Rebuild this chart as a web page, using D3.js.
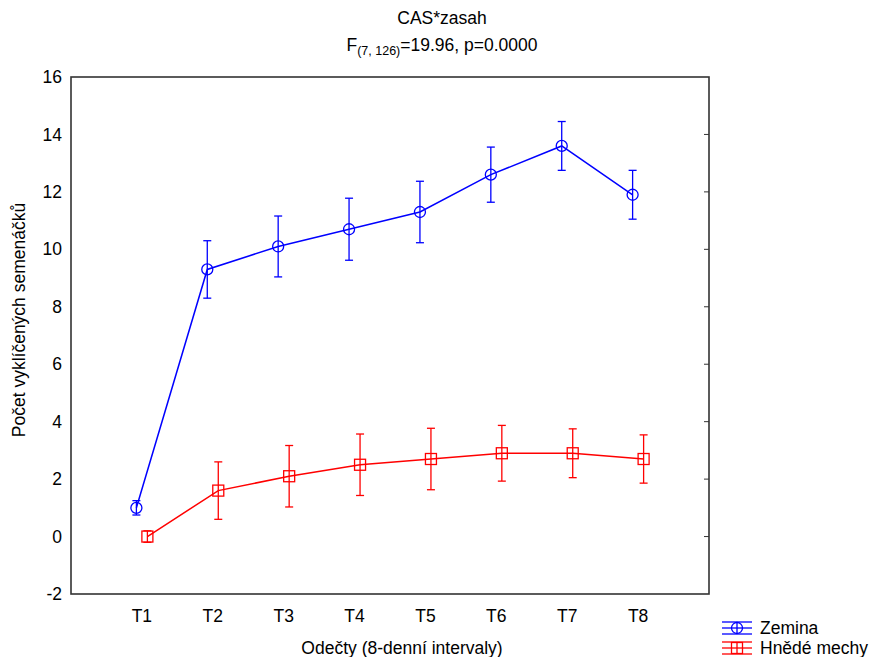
<!DOCTYPE html>
<html>
<head>
<meta charset="utf-8">
<script src="https://cdn.jsdelivr.net/npm/d3@7"></script>
<style>
  body { margin: 0; background: #fff; }
  text { font-family: "Liberation Sans", Arial, sans-serif; }
</style>
</head>
<body>
<svg id="chart"></svg>
<script>
const categories = ["T1", "T2", "T3", "T4", "T5", "T6", "T7", "T8"];
const zeminaMean = [1.0, 9.3, 10.1, 10.7, 11.3, 12.6, 13.6, 11.9];
const zeminaErr  = [0.25, 1.0, 1.06, 1.08, 1.07, 0.96, 0.85, 0.85];
const mechyMean  = [0.0, 1.6, 2.1, 2.5, 2.7, 2.9, 2.9, 2.7];
const mechyErr   = [0.2, 1.0, 1.07, 1.07, 1.07, 0.97, 0.85, 0.84];
const yTicks = [-2, 0, 2, 4, 6, 8, 10, 12, 14, 16];

const series = [
  { name: "Zemina", mean: zeminaMean, err: zeminaErr, color: "#0000ff", shape: "circle", off: -5.5 },
  { name: "Hnědé mechy", mean: mechyMean, err: mechyErr, color: "#ff0000", shape: "square", off: 5.5 }
];

const width = 873, height = 657;
const plotLeft = 71, plotRight = 709, plotTop = 77, plotBottom = 594;
const fs = "17.5px";

const svg = d3.select("#chart").attr("width", width).attr("height", height);

const x = d3.scalePoint().domain(categories).range([plotLeft, plotRight]).padding(1);
const y = d3.scaleLinear().domain([-2, 16]).range([plotBottom, plotTop]);

// frame
svg.append("rect")
   .attr("x", plotLeft).attr("y", plotTop)
   .attr("width", plotRight - plotLeft).attr("height", plotBottom - plotTop)
   .attr("fill", "none").attr("stroke", "#333").attr("stroke-width", 1.6);

// right axis ticks (inside)
svg.append("g").selectAll("line")
   .data(yTicks.slice(1, -1))
   .enter().append("line")
     .attr("x1", plotRight - 5).attr("x2", plotRight)
     .attr("y1", d => y(d)).attr("y2", d => y(d))
     .attr("stroke", "#333").attr("stroke-width", 1);

// y tick labels
svg.append("g").selectAll("text")
   .data(yTicks)
   .enter().append("text")
     .attr("x", plotLeft - 9).attr("y", d => y(d))
     .attr("dy", "0.35em")
     .attr("text-anchor", "end")
     .style("font-size", fs)
     .text(d => d);

// x tick labels
svg.append("g").selectAll("text")
   .data(categories)
   .enter().append("text")
     .attr("x", d => x(d)).attr("y", 622)
     .attr("text-anchor", "middle")
     .style("font-size", fs)
     .text(d => d);

// axis titles
svg.append("text")
   .attr("x", 402).attr("y", 654)
   .attr("text-anchor", "middle").style("font-size", fs)
   .text("Odečty (8-denní intervaly)");

svg.append("text")
   .attr("transform", "translate(25,320) rotate(-90)")
   .attr("text-anchor", "middle").style("font-size", fs)
   .text("Počet vyklíčených semenáčků");

// title
svg.append("text")
   .attr("x", 442).attr("y", 24)
   .attr("text-anchor", "middle").style("font-size", fs)
   .text("CAS*zasah");

const sub = svg.append("text")
   .attr("x", 442).attr("y", 51)
   .attr("text-anchor", "middle").style("font-size", fs);
sub.append("tspan").text("F");
sub.append("tspan").attr("dy", 4).style("font-size", "12.5px").text("(7, 126)");
sub.append("tspan").attr("dy", -4).text("=19.96, p=0.0000");

function drawMarker(g, shape, cx, cy, color) {
  if (shape === "circle") {
    g.append("circle").attr("cx", cx).attr("cy", cy).attr("r", 5.5)
     .attr("fill", "none").attr("stroke", color).attr("stroke-width", 1.3);
  } else {
    g.append("rect").attr("x", cx - 5.5).attr("y", cy - 5.5)
     .attr("width", 11).attr("height", 11)
     .attr("fill", "none").attr("stroke", color).attr("stroke-width", 1.3);
  }
}

series.forEach(s => {
  const g = svg.append("g");
  const pts = categories.map((c, i) => ({ c: c, m: s.mean[i], e: s.err[i] }));

  g.append("path")
   .datum(pts)
   .attr("fill", "none").attr("stroke", s.color).attr("stroke-width", 1.5)
   .attr("d", d3.line().x(d => x(d.c) + s.off).y(d => y(d.m)));

  pts.forEach(d => {
    const cx = x(d.c) + s.off;
    g.append("line")
     .attr("x1", cx).attr("x2", cx)
     .attr("y1", y(d.m + d.e)).attr("y2", y(d.m - d.e))
     .attr("stroke", s.color).attr("stroke-width", 1.3);
    [d.m + d.e, d.m - d.e].forEach(v => {
      g.append("line")
       .attr("x1", cx - 4).attr("x2", cx + 4)
       .attr("y1", y(v)).attr("y2", y(v))
       .attr("stroke", s.color).attr("stroke-width", 1.3);
    });
    drawMarker(g, s.shape, cx, y(d.m), s.color);
  });
});

// legend
series.forEach((s, i) => {
  const ly = 628 + i * 20;
  const g = svg.append("g");
  [-6, 0, 6].forEach(dy => {
    g.append("line")
     .attr("x1", 722).attr("x2", 752)
     .attr("y1", ly + dy).attr("y2", ly + dy)
     .attr("stroke", s.color).attr("stroke-width", 1.3);
  });
  g.append("line")
   .attr("x1", 737).attr("x2", 737)
   .attr("y1", ly - 6).attr("y2", ly + 6)
   .attr("stroke", s.color).attr("stroke-width", 1.3);
  drawMarker(g, s.shape, 737, ly, s.color);
  g.append("text")
   .attr("x", 760).attr("y", ly).attr("dy", "0.35em")
   .style("font-size", fs)
   .text(s.name);
});
</script>
</body>
</html>
